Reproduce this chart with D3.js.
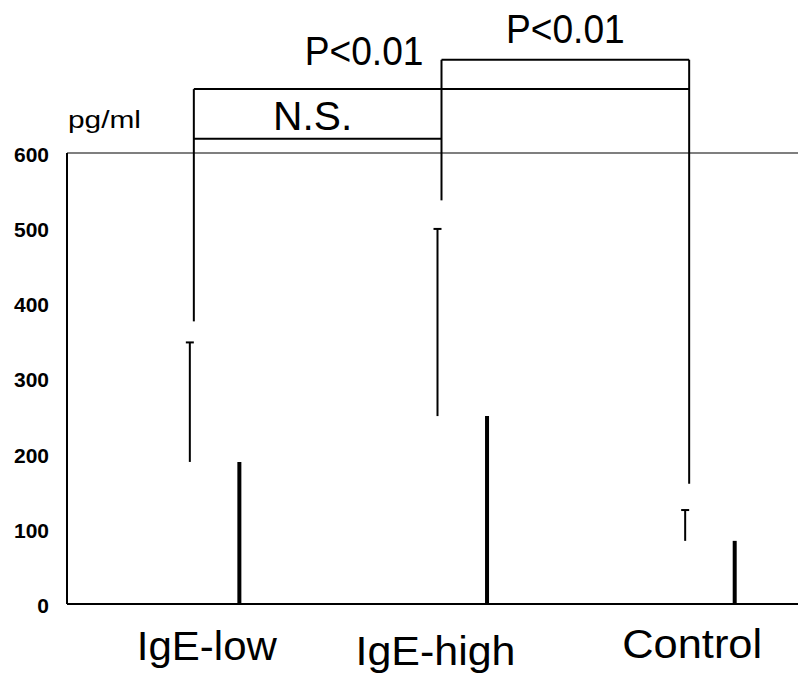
<!DOCTYPE html>
<html>
<head>
<meta charset="utf-8">
<script src="https://cdn.jsdelivr.net/npm/d3@7"></script>
<style>
  html, body { margin: 0; padding: 0; background: #fff; }
  svg { display: block; }
</style>
</head>
<body>
<svg width="798" height="680"></svg>
<script>
// data
var categories = ["IgE-low", "IgE-high", "Control"];
var means = [189, 250, 84];
var sds = [159, 249, 41];
var yTicks = [0, 100, 200, 300, 400, 500, 600];

// significance brackets: pair of groups, level (pg/ml), text
var bracketPairs = [[0, 1], [0, 2], [1, 2]];
var bracketLevels = [619, 685, 724];
var bracketLabels = ["N.S.", "P<0.01", "P<0.01"];
// each group has one leg hanging down from its highest bracket
var legBottoms = [376, 537, 160];

var svg = d3.select("svg");
var condensed = "'Liberation Sans', Arial, sans-serif";

var x = d3.scaleBand()
  .domain(categories)
  .range([67, 810])
  .paddingInner(0.6)
  .paddingOuter(0.3);

var y = d3.scaleLinear()
  .domain([0, 600])
  .range([604, 153]);

function cx(i) { return x(categories[i]) + x.bandwidth() / 2; }

// bars (white, only a dark right edge shows)
var bars = svg.selectAll(".bar")
  .data(categories)
  .enter().append("g")
  .attr("class", "bar");

bars.append("rect")
  .attr("x", function(d) { return x(d); })
  .attr("width", x.bandwidth())
  .attr("y", function(d, i) { return y(means[i]); })
  .attr("height", function(d, i) { return y(0) - y(means[i]); })
  .attr("fill", "#fff");

bars.append("line")
  .attr("x1", function(d) { return x(d) + x.bandwidth() - 1; })
  .attr("x2", function(d) { return x(d) + x.bandwidth() - 1; })
  .attr("y1", function(d, i) { return y(means[i]); })
  .attr("y2", y(0))
  .attr("stroke", "#000").attr("stroke-width", 4);

// error bars (upper only)
bars.append("line")
  .attr("x1", function(d, i) { return cx(i) - 1; })
  .attr("x2", function(d, i) { return cx(i) - 1; })
  .attr("y1", function(d, i) { return y(means[i]); })
  .attr("y2", function(d, i) { return y(means[i] + sds[i]); })
  .attr("stroke", "#000").attr("stroke-width", 2);

bars.append("line")
  .attr("x1", function(d, i) { return cx(i) - 5; })
  .attr("x2", function(d, i) { return cx(i) + 3; })
  .attr("y1", function(d, i) { return y(means[i] + sds[i]); })
  .attr("y2", function(d, i) { return y(means[i] + sds[i]); })
  .attr("stroke", "#000").attr("stroke-width", 2);

// frame lines
svg.append("line")
  .attr("x1", 67).attr("x2", 798)
  .attr("y1", y(600)).attr("y2", y(600))
  .attr("stroke", "#555").attr("stroke-width", 1.5);
svg.append("line")
  .attr("x1", 67).attr("x2", 67)
  .attr("y1", y(600)).attr("y2", y(0))
  .attr("stroke", "#000").attr("stroke-width", 2);
svg.append("line")
  .attr("x1", 67).attr("x2", 798)
  .attr("y1", y(0)).attr("y2", y(0))
  .attr("stroke", "#000").attr("stroke-width", 2);

// y axis labels
var yAxis = svg.append("g")
  .attr("transform", "translate(49,0)")
  .call(d3.axisLeft(y).tickValues(yTicks).tickSize(0).tickPadding(0));
yAxis.select(".domain").remove();
yAxis.selectAll("text")
  .attr("font-family", "'Liberation Sans', Arial, sans-serif")
  .attr("font-weight", "bold")
  .attr("font-size", 21)
  .attr("fill", "#000")
  .attr("dy", "0.4em");

svg.append("text")
  .attr("x", 68).attr("y", 128)
  .attr("font-family", "'Liberation Sans', Arial, sans-serif")
  .attr("font-size", 23)
  .attr("textLength", 73)
  .attr("lengthAdjust", "spacingAndGlyphs")
  .text("pg/ml");

// bracket legs
var legTops = categories.map(function(c, g) {
  var top = 0;
  bracketPairs.forEach(function(p, k) {
    if (p[0] == g || p[1] == g) top = Math.max(top, bracketLevels[k]);
  });
  return top;
});

svg.selectAll(".leg")
  .data(categories)
  .enter().append("line")
  .attr("class", "leg")
  .attr("x1", function(d, i) { return cx(i) + 3; })
  .attr("x2", function(d, i) { return cx(i) + 3; })
  .attr("y1", function(d, i) { return y(legTops[i]); })
  .attr("y2", function(d, i) { return y(legBottoms[i]); })
  .attr("stroke", "#000").attr("stroke-width", 2);

// bracket bars
svg.selectAll(".bracket")
  .data(bracketPairs)
  .enter().append("line")
  .attr("class", "bracket")
  .attr("x1", function(d) { return cx(d[0]) + 3; })
  .attr("x2", function(d) { return cx(d[1]) + 3; })
  .attr("y1", function(d, k) { return y(bracketLevels[k]); })
  .attr("y2", function(d, k) { return y(bracketLevels[k]); })
  .attr("stroke", "#000").attr("stroke-width", 2);

// bracket texts; the long bracket has its label tucked left of the middle leg
svg.selectAll(".sig")
  .data(bracketPairs)
  .enter().append("text")
  .attr("class", "sig")
  .attr("x", function(d, k) {
    if (d[0] == 0 && d[1] == 2) return cx(1) + 3 - 18;
    return (cx(d[0]) + cx(d[1])) / 2 + 3 - (k == 0 ? 5 : 0);
  })
  .attr("y", function(d, k) {
    if (d[0] == 0 && d[1] == 2) return y(bracketLevels[k]) - 24;
    return y(bracketLevels[k]) - (k == 0 ? 9 : 17);
  })
  .attr("text-anchor", function(d) { return (d[0] == 0 && d[1] == 2) ? "end" : "middle"; })
  .attr("font-family", condensed)
  .attr("font-size", 41)
  .attr("textLength", function(d, k) { return bracketLabels[k].length * 19.8; })
  .attr("lengthAdjust", "spacingAndGlyphs")
  .text(function(d, k) { return bracketLabels[k]; });

// category labels
var labelDx = [16, -3, 6];
var labelDy = [660, 665, 658];
svg.selectAll(".cat")
  .data(categories)
  .enter().append("text")
  .attr("class", "cat")
  .attr("x", function(d, i) { return cx(i) + labelDx[i]; })
  .attr("y", function(d, i) { return labelDy[i]; })
  .attr("text-anchor", "middle")
  .attr("font-family", condensed)
  .attr("font-size", 41)
  .attr("textLength", function(d) { return d.length * 20; })
  .attr("lengthAdjust", "spacingAndGlyphs")
  .text(function(d) { return d; });
</script>
</body>
</html>
